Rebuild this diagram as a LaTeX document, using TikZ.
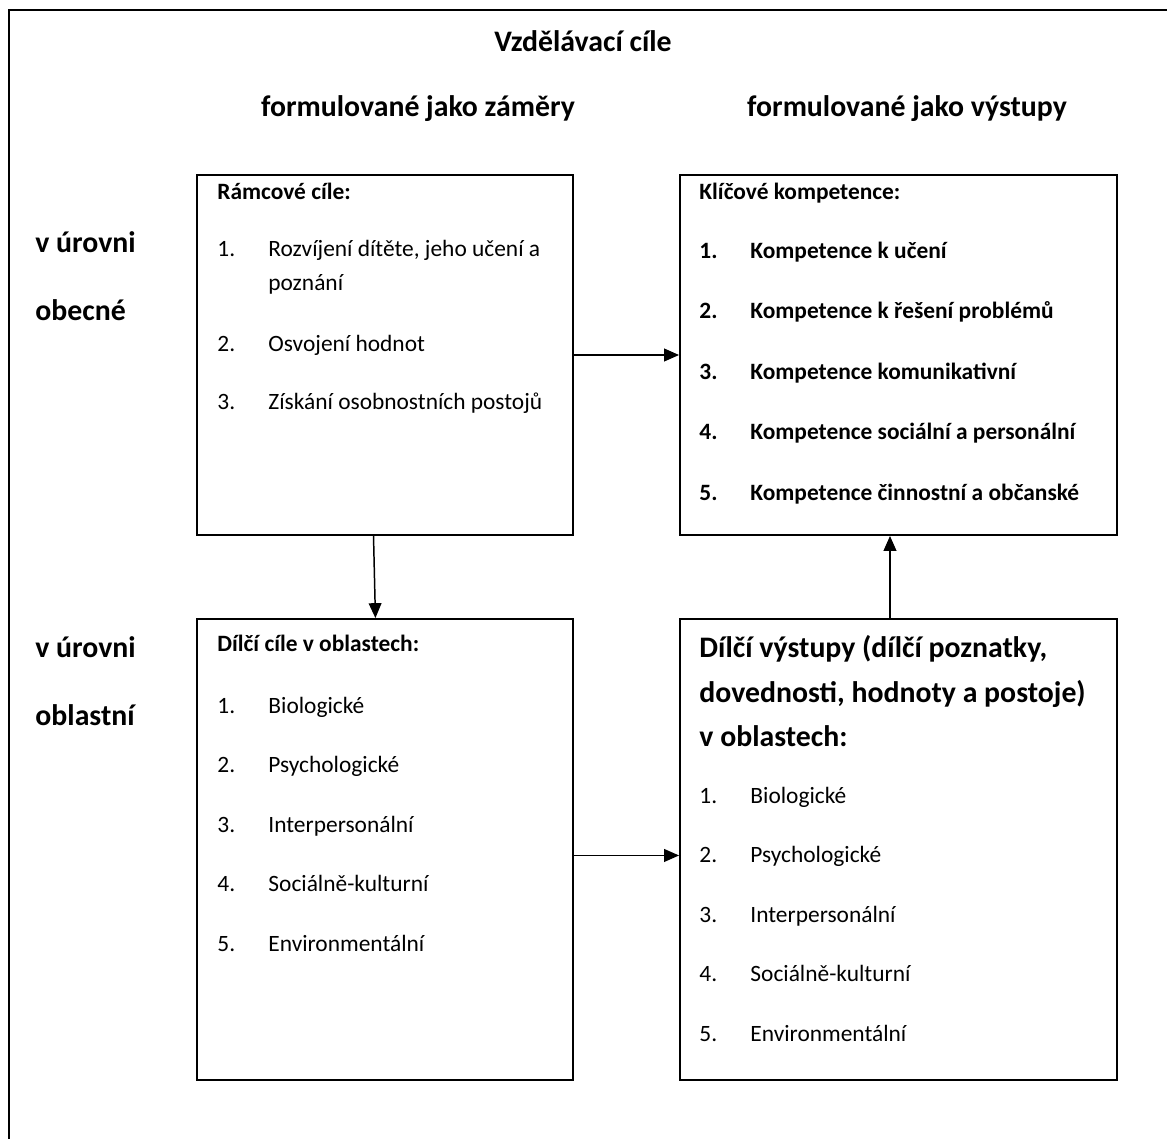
\documentclass[tikz,border=0pt]{standalone}
\usepackage{fontspec}
\setmainfont{Carlito}
\usetikzlibrary{fit,arrows.meta}

\begin{document}
\begin{tikzpicture}[x=0.47pt, y=-0.47pt,
	box/.style={draw, line width=0.9pt, inner sep=0pt},
	txt/.style={anchor=base west, inner sep=0pt, font=\fontsize{11}{13}\selectfont},
	big/.style={anchor=base west, inner sep=0pt, font=\fontsize{14}{17}\selectfont\bfseries},
	head/.style={anchor=base, inner sep=0pt, font=\fontsize{14}{17}\selectfont\bfseries},
	link/.style={line width=0.7pt, -{Triangle[length=7pt, width=6pt]}}]
\useasboundingbox (0,0) rectangle (1167,1139);
\draw[line width=1pt] (1167,10) -- (9,10) -- (9,1139);

% headings
\node[head] (title) at (583,52) {Vzdělávací cíle};
\node[head] (zamery) at (418,117) {formulované jako záměry};
\node[head] (vystupyhead) at (907,117) {formulované jako výstupy};
\node[big] (obecna1) at (35,252) {v úrovni};
\node[big] (obecna2) at (35,320) {obecné};
\node[big] (oblast1) at (35,657) {v úrovni};
\node[big] (oblast2) at (35,725) {oblastní};

% boxes
\node[box, fit={(197,175) (573,535)}] (ramcove) {};
\node[box, fit={(680,175) (1117,535)}] (klicove) {};
\node[box, fit={(197,619) (573,1080)}] (dilci) {};
\node[box, fit={(680,619) (1117,1080)}] (vystupy) {};

% frame goals
\node[txt, font=\fontsize{11}{13}\selectfont\bfseries] (ramcovehead) at (217,199) {Rámcové cíle:};
\node[txt] (r1) at (217,256) {1.};
\node[txt] (r1t) at (268,256) {Rozvíjení dítěte, jeho učení a};
\node[txt] (r1u) at (268,290) {poznání};
\node[txt] (r2) at (217,351) {2.};
\node[txt] (r2t) at (268,351) {Osvojení hodnot};
\node[txt] (r3) at (217,409) {3.};
\node[txt] (r3t) at (268,409) {Získání osobnostních postojů};

% key competences
\node[txt, font=\fontsize{11}{13}\selectfont\bfseries] (klicovehead) at (699,199) {Klíčové kompetence:};
\foreach \t [count=\i] in {Kompetence k učení, Kompetence k řešení problémů,
	Kompetence komunikativní, Kompetence sociální a personální,
	Kompetence činnostní a občanské} {
	\node[txt, font=\fontsize{11}{13}\selectfont\bfseries] (k\i) at (699,{258+(\i-1)*60.5}) {\i.};
	\node[txt, font=\fontsize{11}{13}\selectfont\bfseries] (k\i t) at (750,{258+(\i-1)*60.5}) {\t};
}

% partial goals
\node[txt, font=\fontsize{11}{13}\selectfont\bfseries] (dilcihead) at (217,651) {Dílčí cíle v oblastech:};
\foreach \t [count=\i] in {Biologické, Psychologické, Interpersonální,
	Sociálně-kulturní, Environmentální} {
	\node[txt] (d\i) at (217,{713+(\i-1)*59.5}) {\i.};
	\node[txt] (d\i t) at (268,{713+(\i-1)*59.5}) {\t};
}

% partial outputs
\node[big] (vystupy1) at (699,657) {Dílčí výstupy (dílčí poznatky,};
\node[big] (vystupy2) at (699,702) {dovednosti, hodnoty a postoje)};
\node[big] (vystupy3) at (699,746) {v oblastech:};
\foreach \t [count=\i] in {Biologické, Psychologické, Interpersonální,
	Sociálně-kulturní, Environmentální} {
	\node[txt] (v\i) at (699,{803+(\i-1)*59.5}) {\i.};
	\node[txt] (v\i t) at (750,{803+(\i-1)*59.5}) {\t};
}

% arrows
\draw[link] (ramcove.east) -- (ramcove.east -| klicove.west);
\draw[link] ([yshift=-2.8pt]dilci.east) -- ([yshift=-2.8pt]dilci.east -| vystupy.west);
\draw[link] ([xshift=-5.4pt]ramcove.south) -- ([xshift=-4.5pt]dilci.north);
\draw[link] ([xshift=-4pt]vystupy.north) -- ([xshift=-4pt]klicove.south);
\end{tikzpicture}
\end{document}
